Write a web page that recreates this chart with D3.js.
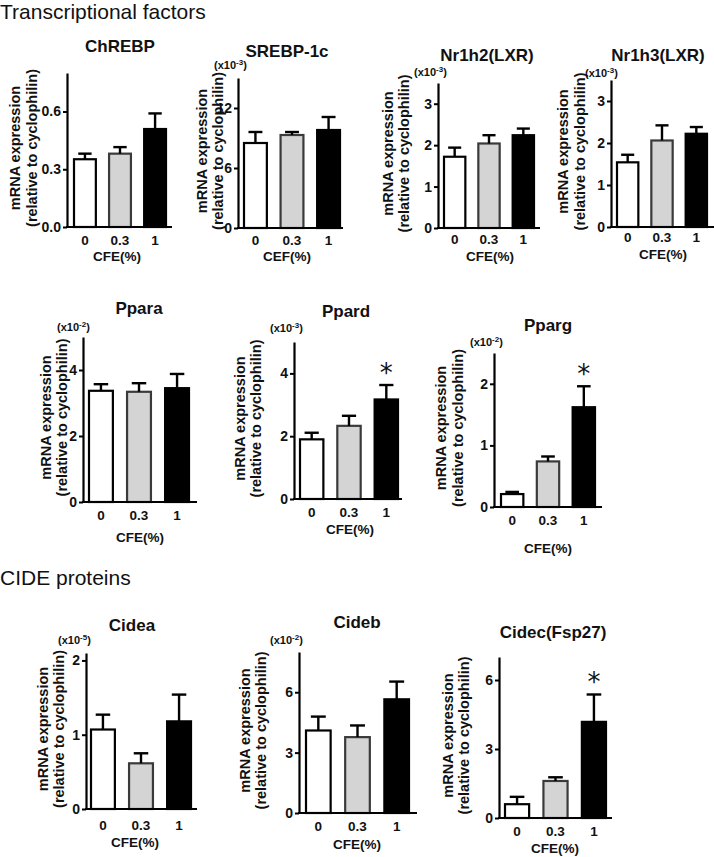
<!DOCTYPE html>
<html><head><meta charset="utf-8">
<script src="https://cdn.jsdelivr.net/npm/d3@7"></script>
<style>body{margin:0;background:#fff}svg{display:block}</style>
</head><body><svg id="c" width="714" height="857"></svg>
<script>
// ---------- data ----------
const doses = ["0", "0.3", "1"];
const sectionTitles = ["Transcriptional factors", "CIDE proteins"];

const chrebpMean = [0.352, 0.381, 0.509];
const chrebpSem  = [0.029, 0.034, 0.081];
const chrebpDomain = [0, 0.8];
const chrebpTicks = [0, 0.3, 0.6];
const chrebpTickLabels = ["0.0", "0.3", "0.6"];

const srebpMean = [8.5, 9.3, 9.8];
const srebpSem  = [1.1, 0.3, 1.3];
const srebpDomain = [0, 15];
const srebpTicks = [0, 6, 12];

const nr1h2Mean = [1.72, 2.04, 2.24];
const nr1h2Sem  = [0.22, 0.20, 0.16];
const nr1h2Domain = [0, 3.5];
const nr1h2Ticks = [0, 1, 2, 3];

const nr1h3Mean = [1.54, 2.06, 2.22];
const nr1h3Sem  = [0.18, 0.36, 0.16];
const nr1h3Domain = [0, 3.5];
const nr1h3Ticks = [0, 1, 2, 3];

const pparaMean = [3.37, 3.34, 3.45];
const pparaSem  = [0.20, 0.26, 0.43];
const pparaDomain = [0, 5];
const pparaTicks = [0, 2, 4];

const ppardMean = [1.90, 2.33, 3.17];
const ppardSem  = [0.21, 0.32, 0.46];
const ppardDomain = [0, 5];
const ppardTicks = [0, 2, 4];

const ppargMean = [0.21, 0.74, 1.62];
const ppargSem  = [0.035, 0.08, 0.34];
const ppargDomain = [0, 2.5];
const ppargTicks = [0, 1, 2];

const cideaMean = [1.07, 0.615, 1.18];
const cideaSem  = [0.20, 0.135, 0.36];
const cideaDomain = [0, 2.1];
const cideaTicks = [0, 1, 2];

const cidebMean = [4.10, 3.77, 5.65];
const cidebSem  = [0.69, 0.58, 0.88];
const cidebDomain = [0, 8];
const cidebTicks = [0, 3, 6];

const cidecMean = [0.60, 1.61, 4.18];
const cidecSem  = [0.32, 0.16, 1.19];
const cidecDomain = [0, 7];
const cidecTicks = [0, 3, 6];

const genes = ["ChREBP", "SREBP-1c", "Nr1h2(LXR)", "Nr1h3(LXR)", "Ppara", "Ppard", "Pparg", "Cidea", "Cideb", "Cidec(Fsp27)"];
const exponents = [null, "-3", "-3", "-3", "-2", "-3", "-2", "-5", "-2", null];
const significant = [[], [], [], [], [], ["1"], ["1"], [], [], ["1"]];
const xLabels = ["CFE(%)", "CEF(%)", "CFE(%)", "CFE(%)", "CFE(%)", "CFE(%)", "CFE(%)", "CFE(%)", "CFE(%)", "CFE(%)"];
const yLabelLines = ["mRNA expression", "(relative to cyclophilin)"];

const means = [chrebpMean, srebpMean, nr1h2Mean, nr1h3Mean, pparaMean, ppardMean, ppargMean, cideaMean, cidebMean, cidecMean];
const sems = [chrebpSem, srebpSem, nr1h2Sem, nr1h3Sem, pparaSem, ppardSem, ppargSem, cideaSem, cidebSem, cidecSem];
const domains = [chrebpDomain, srebpDomain, nr1h2Domain, nr1h3Domain, pparaDomain, ppardDomain, ppargDomain, cideaDomain, cidebDomain, cidecDomain];
const ticks = [chrebpTicks, srebpTicks, nr1h2Ticks, nr1h3Ticks, pparaTicks, ppardTicks, ppargTicks, cideaTicks, cidebTicks, cidecTicks];
const tickLabels = [chrebpTickLabels, null, null, null, null, null, null, null, null, null];

// ---------- layout (pixels) ----------
const layout = [
  {ax: 67,  top: 73,  zero: 227, end: 172, b0: 73,  b1: 167, tx: 120, ty: 46,  ex: 0,   ey: 0,   yl: [15, 32],   xt: 240, xl: 256, xlx: 117},
  {ax: 238, top: 78,  zero: 228, end: 343, b0: 243, b1: 341, tx: 287, ty: 51,  ex: 214, ey: 65,  yl: [202, 218], xt: 240, xl: 256, xlx: 287},
  {ax: 438, top: 83,  zero: 228, end: 540, b0: 443, b1: 535, tx: 487, ty: 55,  ex: 414, ey: 72,  yl: [388, 404], xt: 239, xl: 256, xlx: 490},
  {ax: 611, top: 80,  zero: 227, end: 714, b0: 616, b1: 708, tx: 658, ty: 55,  ex: 585, ey: 73,  yl: [563, 580], xt: 237, xl: 254, xlx: 663},
  {ax: 83,  top: 337, zero: 502, end: 197, b0: 88,  b1: 190, tx: 139, ty: 308, ex: 57,  ey: 327, yl: [46, 62],   xt: 515, xl: 537, xlx: 140},
  {ax: 294, top: 342, zero: 499, end: 402, b0: 299, b1: 399, tx: 346, ty: 311, ex: 270, ey: 328, yl: [240, 256], xt: 512, xl: 529, xlx: 350},
  {ax: 494, top: 353, zero: 507, end: 602, b0: 500, b1: 596, tx: 548, ty: 325, ex: 470, ey: 342, yl: [441, 458], xt: 520, xl: 548, xlx: 548},
  {ax: 86,  top: 653, zero: 809, end: 197, b0: 90,  b1: 192, tx: 132, ty: 625, ex: 58,  ey: 640, yl: [43, 59],   xt: 825, xl: 842, xlx: 135},
  {ax: 299, top: 652, zero: 813, end: 417, b0: 305, b1: 410, tx: 357, ty: 622, ex: 270, ey: 640, yl: [245, 261], xt: 826, xl: 844, xlx: 357},
  {ax: 499, top: 657, zero: 818, end: 612, b0: 504, b1: 607, tx: 553, ty: 632, ex: 0,   ey: 0,   yl: [448, 464], xt: 831, xl: 848, xlx: 555}
];
const sectionPos = [{x: 0, y: 19}, {x: 0, y: 585}];

const FONT = "'Liberation Sans', Arial, Helvetica, sans-serif";
const fills = ["#ffffff", "#d4d4d4", "#000000"];
const strokes = ["#000000", "#3a3a3a", "#000000"];

const svg = d3.select("#c").style("font-family", FONT);

svg.selectAll("text.section").data(sectionTitles).join("text")
  .attr("class", "section")
  .attr("x", (d, i) => sectionPos[i].x)
  .attr("y", (d, i) => sectionPos[i].y)
  .attr("font-size", 21)
  .attr("fill", "#111")
  .text(d => d);

genes.forEach((gene, i) => {
  const L = layout[i];
  const g = svg.append("g");
  const y = d3.scaleLinear().domain(domains[i]).range([L.zero, L.top]);
  const x = d3.scaleBand().domain(doses).range([L.b0, L.b1]).paddingInner(0.32).paddingOuter(0);
  const rows = doses.map((d, k) => ({dose: d, mean: means[i][k], sem: sems[i][k], k}));

  g.selectAll("rect.bar").data(rows).join("rect")
    .attr("class", "bar")
    .attr("x", d => x(d.dose) + 1)
    .attr("width", x.bandwidth() - 2)
    .attr("y", d => y(d.mean))
    .attr("height", d => y(0) - y(d.mean))
    .attr("fill", d => fills[d.k])
    .attr("stroke", d => strokes[d.k])
    .attr("stroke-width", 2.2);

  const cw = x.bandwidth() * 0.28;
  g.selectAll("line.err").data(rows).join("line")
    .attr("class", "err")
    .attr("x1", d => x(d.dose) + x.bandwidth() / 2)
    .attr("x2", d => x(d.dose) + x.bandwidth() / 2)
    .attr("y1", d => y(d.mean))
    .attr("y2", d => y(d.mean + d.sem))
    .attr("stroke", "#000").attr("stroke-width", 2.4);
  g.selectAll("line.cap").data(rows).join("line")
    .attr("class", "cap")
    .attr("x1", d => x(d.dose) + x.bandwidth() / 2 - cw)
    .attr("x2", d => x(d.dose) + x.bandwidth() / 2 + cw)
    .attr("y1", d => y(d.mean + d.sem))
    .attr("y2", d => y(d.mean + d.sem))
    .attr("stroke", "#000").attr("stroke-width", 2.4);

  g.selectAll("text.star").data(rows.filter(d => significant[i].includes(d.dose))).join("text")
    .attr("class", "star")
    .attr("x", d => x(d.dose) + x.bandwidth() / 2)
    .attr("y", d => y(d.mean + d.sem) - 3)
    .attr("text-anchor", "middle")
    .attr("font-size", 26)
    .attr("font-family", "'DejaVu Sans', sans-serif")
    .attr("fill", "#111")
    .text("*");

  const yAxis = d3.axisLeft(y).tickValues(ticks[i]).tickSize(4).tickSizeOuter(0).tickPadding(2)
    .tickFormat((v, k) => tickLabels[i] ? tickLabels[i][k] : d3.format("d")(v));
  const ya = g.append("g").attr("transform", `translate(${L.ax},0)`).call(yAxis);
  ya.select(".domain").attr("stroke-width", 2.2);
  ya.selectAll(".tick line").attr("stroke-width", 2);
  ya.selectAll(".tick text").attr("font-size", 14).attr("font-weight", "bold").attr("font-family", FONT).attr("fill", "#111");

  g.append("line").attr("x1", L.ax - 1).attr("x2", L.end).attr("y1", L.zero).attr("y2", L.zero)
    .attr("stroke", "#000").attr("stroke-width", 2.2);

  g.selectAll("text.xt").data(doses).join("text")
    .attr("class", "xt")
    .attr("x", d => x(d) + x.bandwidth() / 2)
    .attr("y", L.xt)
    .attr("dominant-baseline", "central")
    .attr("text-anchor", "middle")
    .attr("font-size", 13.5).attr("font-weight", "bold").attr("fill", "#111")
    .text(d => d);

  g.append("text").attr("x", L.xlx).attr("y", L.xl)
    .attr("dominant-baseline", "central").attr("text-anchor", "middle")
    .attr("font-size", 13.5).attr("font-weight", "bold").attr("fill", "#111")
    .text(xLabels[i]);

  g.append("text").attr("x", L.tx).attr("y", L.ty)
    .attr("dominant-baseline", "central").attr("text-anchor", "middle")
    .attr("font-size", 17).attr("font-weight", "bold").attr("fill", "#111")
    .text(gene);

  if (exponents[i]) {
    const t = g.append("text").attr("x", L.ex).attr("y", L.ey + 4)
      .attr("font-size", 11).attr("font-weight", "bold").attr("fill", "#111");
    t.append("tspan").text("(x10");
    t.append("tspan").attr("font-size", 8).attr("dy", -4).text(exponents[i]);
    t.append("tspan").attr("dy", 4).text(")");
  }

  const cy = (L.top + L.zero) / 2 - 2;
  yLabelLines.forEach((line, k) => {
    g.append("text")
      .attr("transform", `translate(${L.yl[k]},${cy}) rotate(-90)`)
      .attr("dominant-baseline", "central").attr("text-anchor", "middle")
      .attr("font-size", 14.5).attr("font-weight", "bold").attr("fill", "#111")
      .text(line);
  });
});
</script>
</body></html>
